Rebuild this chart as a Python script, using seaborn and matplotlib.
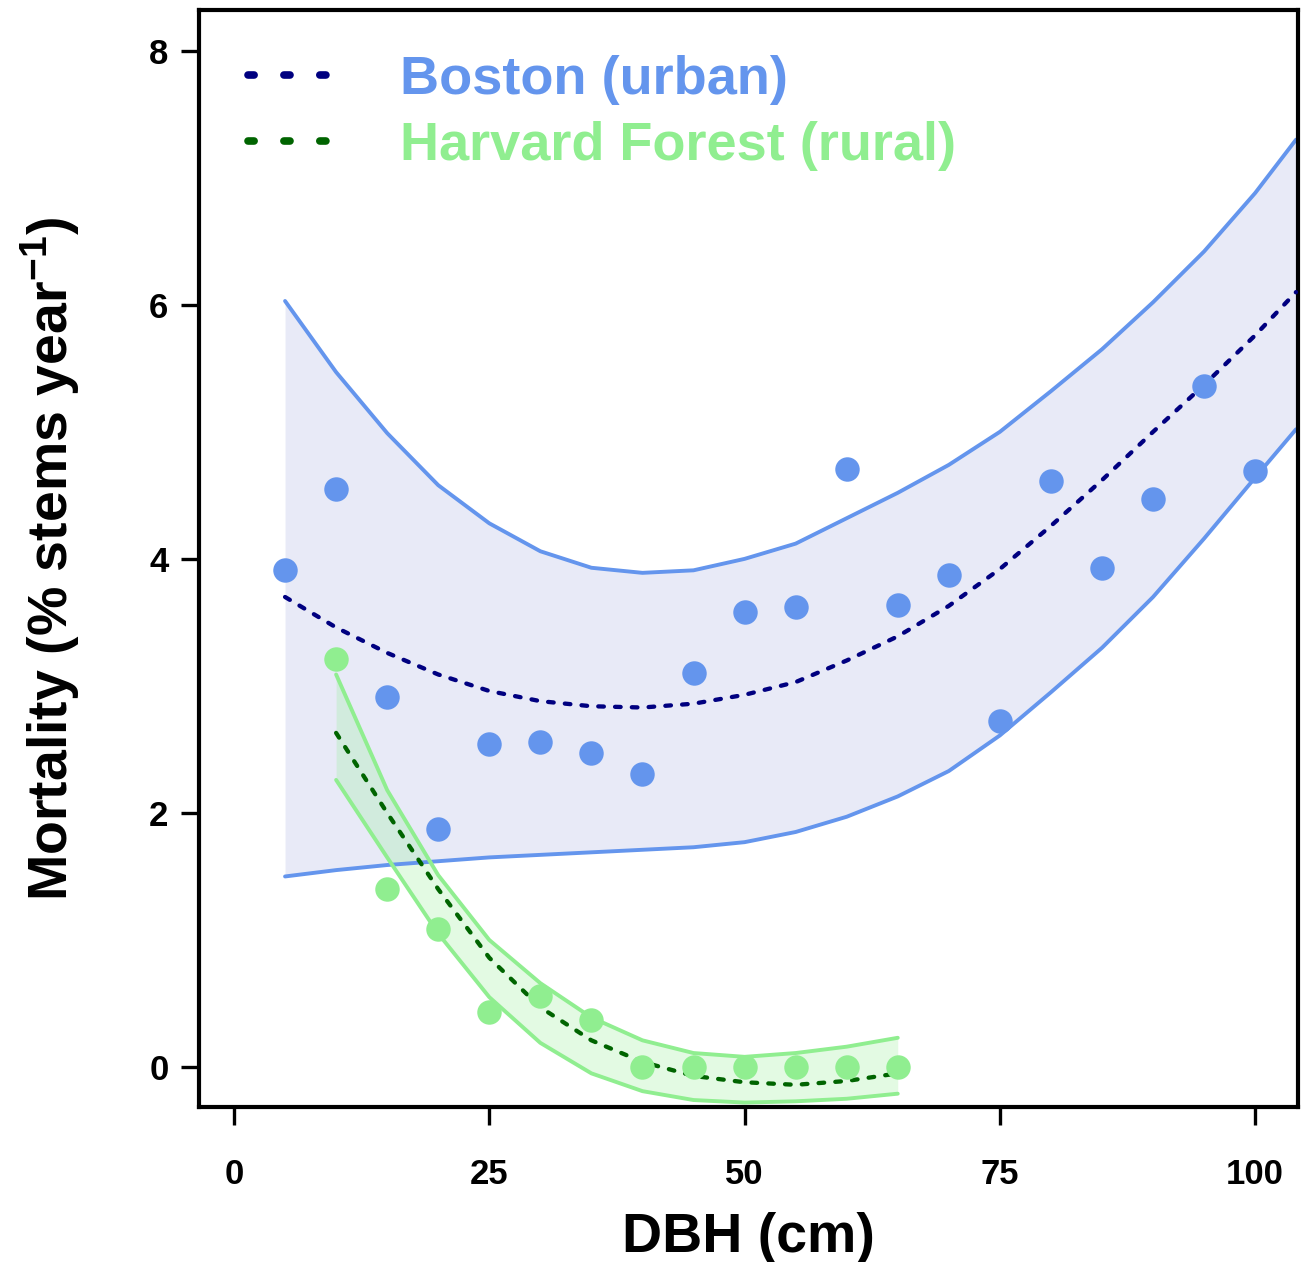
import matplotlib.pyplot as plt
import seaborn as sns
from matplotlib.lines import Line2D

# observed mortality per 5 cm size class
dbh_boston = [5, 10, 15, 20, 25, 30, 35, 40, 45, 50, 55, 60, 65, 70, 75, 80, 85, 90, 95, 100]
mort_boston = [3.91, 4.55, 2.91, 1.87, 2.54, 2.56, 2.47, 2.31, 3.10, 3.58,
               3.62, 4.71, 3.64, 3.87, 2.72, 4.61, 3.93, 4.47, 5.36, 4.69]
dbh_harvard = [10, 15, 20, 25, 30, 35, 40, 45, 50, 55, 60, 65]
mort_harvard = [3.21, 1.40, 1.09, 0.43, 0.56, 0.37, 0.0, 0.0, 0.0, 0.0, 0.0, 0.0]

# fitted curves and confidence bands
fit_x_boston = [5, 10, 15, 20, 25, 30, 35, 40, 45, 50, 55, 60, 65, 70, 75, 80, 85, 90, 95, 100, 104]
fit_boston = [3.70, 3.46, 3.26, 3.09, 2.96, 2.88, 2.84, 2.83, 2.86, 2.93, 3.03,
              3.20, 3.39, 3.63, 3.92, 4.26, 4.62, 5.00, 5.37, 5.76, 6.10]
upper_boston = [6.03, 5.47, 4.99, 4.58, 4.28, 4.06, 3.93, 3.89, 3.91, 4.00, 4.12,
                4.32, 4.52, 4.74, 5.00, 5.32, 5.65, 6.02, 6.42, 6.88, 7.30]
lower_boston = [1.50, 1.55, 1.59, 1.62, 1.65, 1.67, 1.69, 1.71, 1.73, 1.77, 1.85,
                1.97, 2.13, 2.33, 2.61, 2.95, 3.30, 3.70, 4.16, 4.64, 5.02]

fit_x_harvard = [10, 15, 20, 25, 30, 35, 40, 45, 50, 55, 60, 65]
fit_harvard = [2.63, 2.00, 1.40, 0.86, 0.47, 0.21, 0.04, -0.07, -0.12, -0.14, -0.11, -0.05]
upper_harvard = [3.09, 2.18, 1.51, 1.00, 0.66, 0.39, 0.21, 0.11, 0.08, 0.11, 0.16, 0.23]
lower_harvard = [2.26, 1.65, 1.05, 0.55, 0.19, -0.05, -0.19, -0.26, -0.28, -0.27, -0.25, -0.21]

labels = ["Boston (urban)", "Harvard Forest (rural)"]
x_ticks = [0, 25, 50, 75, 100]
y_ticks = [0, 2, 4, 6, 8]

sns.set_style("ticks")
plt.rcParams["font.family"] = ["Liberation Sans", "DejaVu Sans"]
plt.rcParams["font.weight"] = "bold"
plt.rcParams["text.color"] = "black"
plt.rcParams["axes.labelcolor"] = "black"
plt.rcParams["xtick.color"] = "black"
plt.rcParams["ytick.color"] = "black"
plt.rcParams["mathtext.fontset"] = "custom"
plt.rcParams["mathtext.rm"] = "Liberation Sans:bold"
plt.rcParams["mathtext.default"] = "rm"

fig = plt.figure(figsize=(13.03, 12.62), dpi=100)
ax = fig.add_axes([0.1527, 0.1228, 0.8435, 0.8692])

# bands
ax.fill_between(fit_x_boston, lower_boston, upper_boston, color="#E8EAF7", lw=0, zorder=1)
ax.fill_between(fit_x_harvard, lower_harvard, upper_harvard, color="lightgreen",
                alpha=0.25, lw=0, zorder=1.5)

# band edges
for y in (upper_boston, lower_boston):
    sns.lineplot(x=fit_x_boston, y=y, color="cornflowerblue", lw=2.8, ax=ax, zorder=2)
for y in (upper_harvard, lower_harvard):
    sns.lineplot(x=fit_x_harvard, y=y, color="lightgreen", lw=2.8, ax=ax, zorder=2)

# fitted lines
dotted = (0, (1.3, 2.6))
sns.lineplot(x=fit_x_boston, y=fit_boston, color="navy", lw=3.1, linestyle=dotted,
             dash_capstyle="round", ax=ax, zorder=3)
sns.lineplot(x=fit_x_harvard, y=fit_harvard, color="darkgreen", lw=3.1, linestyle=dotted,
             dash_capstyle="round", ax=ax, zorder=3)

# observations
sns.scatterplot(x=dbh_boston, y=mort_boston, color="cornflowerblue", s=310,
                linewidth=0, ax=ax, zorder=5)
sns.scatterplot(x=dbh_harvard, y=mort_harvard, color="lightgreen", s=310,
                linewidth=0, ax=ax, zorder=5)

ax.set_xlim(-3.43, 104.2)
ax.set_ylim(-0.315, 8.32)
ax.set_xticks(x_ticks)
ax.set_yticks(y_ticks)
ax.tick_params(direction="out", length=13, width=2.4, labelsize=25, color="black",
               labelcolor="black")
ax.tick_params(axis="x", pad=24)
ax.tick_params(axis="y", pad=9)
for sp in ax.spines.values():
    sp.set_visible(True)
    sp.set_linewidth(3)
    sp.set_color("black")

ax.set_xlabel("DBH (cm)", fontsize=40, fontweight="bold")
ax.xaxis.set_label_coords(0.5, -0.096)
ax.set_ylabel(r"Mortality (% stems year$^{-1}$)", fontsize=40, fontweight="bold")
ax.yaxis.set_label_coords(-0.106, 0.5)

handles = [
    Line2D([], [], color="navy", lw=5.5, ls=(0, (0.8, 3.9)), dash_capstyle="round"),
    Line2D([], [], color="darkgreen", lw=5.5, ls=(0, (0.8, 3.9)), dash_capstyle="round"),
]
ax.legend(handles, labels, loc="upper left", bbox_to_anchor=(0.045, 0.959),
          frameon=False, fontsize=39, handlelength=1.75, handletextpad=1.05,
          labelspacing=0.3, borderpad=0, borderaxespad=0,
          labelcolor=["cornflowerblue", "lightgreen"])

fig.savefig("out.png", dpi=100)
